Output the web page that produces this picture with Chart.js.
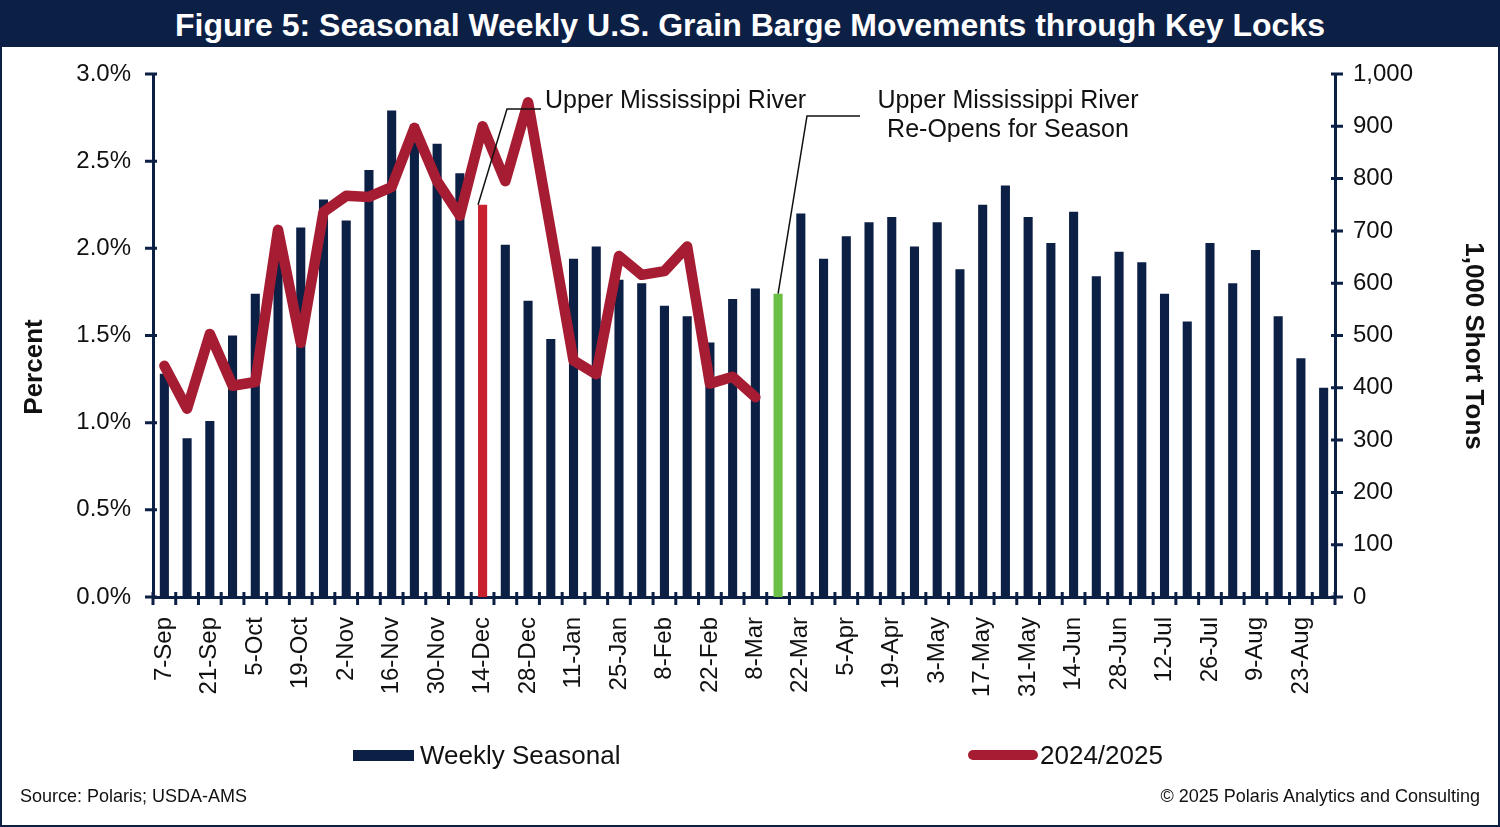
<!DOCTYPE html>
<html>
<head>
<meta charset="utf-8">
<title>Seasonal Weekly U.S. Grain Barge Movements</title>
<script src="https://cdn.jsdelivr.net/npm/chart.js@4.4.1/dist/chart.umd.min.js"></script>
<style>
  body { margin: 0; background: #fff; font-family: "Liberation Sans", Arial, sans-serif; }
  #wrap { position: relative; width: 1500px; height: 827px; overflow: hidden; }
  #chart { position: absolute; left: 0; top: 0; }
  #frame { position: absolute; left: 0; top: 0; width: 1500px; height: 827px; box-sizing: border-box;
           border: 2px solid #0c1f45; pointer-events: none; }
  #title { position: absolute; left: 0; top: 0; width: 1500px; height: 47px; background: #0c1f45;
           color: #fff; font-weight: bold; font-size: 32px; line-height: 50px; text-align: center; }
  .legend-item { position: absolute; top: 740px; height: 30px; display: flex; align-items: center;
                 font-size: 26px; color: #111; }
  .legend-item span.box { display: inline-block; margin-right: 6px; }
  .foot { position: absolute; top: 786px; font-size: 18px; color: #111; }
</style>
</head>
<body>
<div id="wrap">
  <canvas id="chart" width="1500" height="827"></canvas>
  <div id="title">Figure 5: Seasonal Weekly U.S. Grain Barge Movements through Key Locks</div>
  <div id="legend"></div>
  <div class="foot" style="left:20px">Source: Polaris; USDA-AMS</div>
  <div class="foot" style="right:20px">© 2025 Polaris Analytics and Consulting</div>
  <div id="frame"></div>
</div>
<script>
// week ending dates, marketing year Sep - Aug
const weeks = [
  "7-Sep", "14-Sep", "21-Sep", "28-Sep", "5-Oct", "12-Oct", "19-Oct", "26-Oct",
  "2-Nov", "9-Nov", "16-Nov", "23-Nov", "30-Nov", "7-Dec", "14-Dec", "21-Dec",
  "28-Dec", "4-Jan", "11-Jan", "18-Jan", "25-Jan", "1-Feb", "8-Feb", "15-Feb",
  "22-Feb", "1-Mar", "8-Mar", "15-Mar", "22-Mar", "29-Mar", "5-Apr", "12-Apr",
  "19-Apr", "26-Apr", "3-May", "10-May", "17-May", "24-May", "31-May", "7-Jun",
  "14-Jun", "21-Jun", "28-Jun", "5-Jul", "12-Jul", "19-Jul", "26-Jul", "2-Aug",
  "9-Aug", "16-Aug", "23-Aug", "30-Aug"
];

// share of annual movements by week (%)
const seasonalPct = [
  1.28, 0.91, 1.01, 1.50, 1.74, 1.95, 2.12, 2.28,
  2.16, 2.45, 2.79, 2.71, 2.60, 2.43, 2.25, 2.02,
  1.70, 1.48, 1.94, 2.01, 1.82, 1.80, 1.67, 1.61,
  1.46, 1.71, 1.77, 1.74, 2.20, 1.94, 2.07, 2.15,
  2.18, 2.01, 2.15, 1.88, 2.25, 2.36, 2.18, 2.03,
  2.21, 1.84, 1.98, 1.92, 1.74, 1.58, 2.03, 1.80,
  1.99, 1.61, 1.37, 1.20
];

// 2024/2025 weekly movements, 1,000 short tons
const tons2425 = [
  442, 360, 503, 404, 411, 702, 486, 736,
  767, 765, 784, 897, 795, 729, 900, 795,
  946, 700, 452, 426, 652, 616, 623, 670,
  408, 421, 382
];

const closeWeek = "14-Dec";
const reopenWeek = "15-Mar";

const navy = "#0c1f45";
const crimson = "#a61d33";

const barColors = weeks.map(w => w === closeWeek ? "#c8202c" : (w === reopenWeek ? "#6cbf45" : navy));

Chart.defaults.font.family = '"Liberation Sans", Arial, sans-serif';
Chart.defaults.color = "#111";

// axis tick crosses, axis titles and the two river notes
const extras = {
  id: "extras",
  afterDraw(chart) {
    const ctx = chart.ctx;
    const xs = chart.scales.x, ys = chart.scales.y, yr = chart.scales.y1;
    ctx.save();
    ctx.strokeStyle = navy;
    ctx.lineWidth = 3;
    ctx.beginPath();
    const step = xs.width / weeks.length;
    for (let k = 0; k <= weeks.length; k++) {
      const x = xs.left + k * step;
      ctx.moveTo(x, xs.top - 5);
      ctx.lineTo(x, xs.top + 8);
    }
    ys.ticks.forEach(t => {
      const y = ys.getPixelForValue(t.value);
      ctx.moveTo(ys.right - 8, y);
      ctx.lineTo(ys.right + 4, y);
    });
    yr.ticks.forEach(t => {
      const y = yr.getPixelForValue(t.value);
      ctx.moveTo(yr.left - 4, y);
      ctx.lineTo(yr.left + 8, y);
    });
    ctx.stroke();

    // axis titles
    ctx.fillStyle = "#111";
    ctx.font = 'bold 26px "Liberation Sans", Arial';
    ctx.textAlign = "center";
    ctx.textBaseline = "middle";
    ctx.save();
    ctx.translate(35, 367);
    ctx.rotate(-Math.PI / 2);
    ctx.fillText("Percent", 0, 0);
    ctx.restore();
    ctx.save();
    ctx.translate(1473, 346);
    ctx.rotate(Math.PI / 2);
    ctx.fillText("1,000 Short Tons", 0, 0);
    ctx.restore();

    // leader lines from the highlighted bars
    const bars = chart.getDatasetMeta(1).data;
    const closeBar = bars[weeks.indexOf(closeWeek)];
    const openBar = bars[weeks.indexOf(reopenWeek)];
    ctx.strokeStyle = "#111";
    ctx.lineWidth = 1.5;
    ctx.beginPath();
    ctx.moveTo(closeBar.x - closeBar.width / 2, closeBar.y);
    ctx.lineTo(507, 109);
    ctx.lineTo(541, 109);
    ctx.moveTo(openBar.x, openBar.y);
    ctx.lineTo(807, 116);
    ctx.lineTo(860, 116);
    ctx.stroke();

    ctx.font = '25px "Liberation Sans", Arial';
    ctx.textAlign = "left";
    ctx.fillText("Upper Mississippi River", 545, 101);
    ctx.textAlign = "center";
    ctx.fillText("Upper Mississippi River", 1008, 101);
    ctx.fillText("Re-Opens for Season", 1008, 130);
    ctx.restore();
  }
};

const chart = new Chart(document.getElementById("chart"), {
  type: "bar",
  data: {
    labels: weeks,
    datasets: [
      {
        type: "line",
        label: "2024/2025",
        data: tons2425,
        yAxisID: "y1",
        borderColor: crimson,
        backgroundColor: crimson,
        borderWidth: 10.5,
        borderJoinStyle: "round",
        borderCapStyle: "round",
        pointRadius: 0,
        tension: 0,
        order: 0
      },
      {
        label: "Weekly Seasonal",
        data: seasonalPct,
        yAxisID: "y",
        backgroundColor: barColors,
        categoryPercentage: 1,
        barPercentage: 0.4,
        order: 1
      }
    ]
  },
  options: {
    responsive: false,
    animation: false,
    layout: { padding: { top: 74, left: 0, right: 0, bottom: 0 } },
    plugins: {
      legend: { display: false },
      tooltip: { enabled: false }
    },
    scales: {
      x: {
        offset: true,
        z: 1,
        grid: { display: false },
        border: { display: true, color: navy, width: 3 },
        ticks: {
          autoSkip: false,
          minRotation: 90,
          maxRotation: 90,
          padding: 12,
          font: { size: 24 },
          callback: (v, i) => (i % 2 === 0 ? weeks[i] : "")
        },
        afterFit: s => { s.height = 230; }
      },
      y: {
        position: "left",
        min: 0,
        max: 3,
        z: 1,
        grid: { display: false },
        border: { display: true, color: navy, width: 3 },
        ticks: {
          stepSize: 0.5,
          padding: 14,
          font: { size: 24 },
          callback: v => v.toFixed(1) + "%"
        },
        afterFit: s => { s.width = 153; }
      },
      y1: {
        position: "right",
        min: 0,
        max: 1000,
        z: 1,
        grid: { display: false },
        border: { display: true, color: navy, width: 3 },
        ticks: {
          stepSize: 100,
          padding: 10,
          font: { size: 24 },
          callback: v => v.toLocaleString("en-US")
        },
        afterFit: s => { s.width = 165; }
      }
    }
  },
  plugins: [extras]
});

// legend built from the datasets
const legend = document.getElementById("legend");
const barSet = chart.data.datasets[1], lineSet = chart.data.datasets[0];
legend.innerHTML =
  '<div class="legend-item" style="left:353px"><span class="box" style="width:61px;height:11px;background:' + navy + '"></span>' + barSet.label + '</div>' +
  '<div class="legend-item" style="left:968px"><span class="box" style="width:70px;height:10px;border-radius:5px;margin-right:2px;background:' + lineSet.borderColor + '"></span>' + lineSet.label + '</div>';
</script>
</body>
</html>
